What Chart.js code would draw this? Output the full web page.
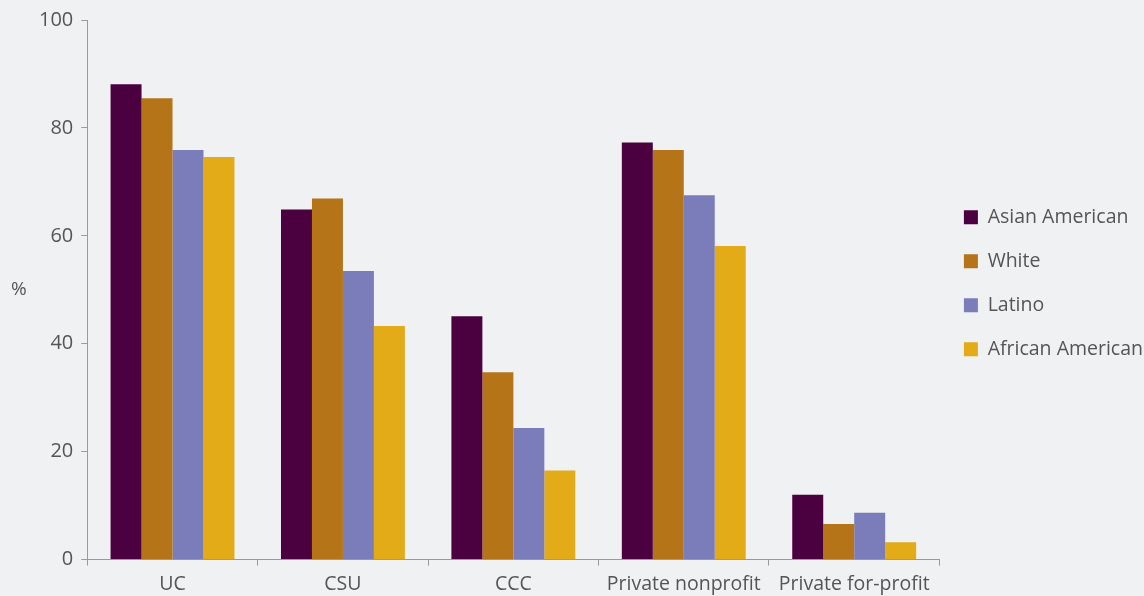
<!DOCTYPE html>
<html>
<head>
<meta charset="utf-8">
<script src="https://cdn.jsdelivr.net/npm/chart.js@4"></script>
<style>
  html, body { margin: 0; padding: 0; background: #eff1f3; }
  #wrap { position: relative; width: 1144px; height: 596px; }
</style>
</head>
<body>
<div id="wrap"><canvas id="barChart"></canvas></div>
<script>
// categories + series (percent)
const sectors = ['UC', 'CSU', 'CCC', 'Private nonprofit', 'Private for-profit'];
const asianAmerican = [88.1, 64.9, 45.1, 77.3, 12.0];
const white = [85.5, 66.9, 34.7, 75.9, 6.6];
const latino = [75.9, 53.5, 24.4, 67.5, 8.7];
const africanAmerican = [74.6, 43.3, 16.5, 58.1, 3.2];
const yTicks = [0, 20, 40, 60, 80, 100];

const textColor = '#555555';
const axisColor = '#9a9a9a';
const fontFamily = '"Open Sans", Lato, sans-serif';

// "%" label, drawn horizontally left of the y axis
const percentLabel = {
  id: 'percentLabel',
  afterDraw(chart) {
    const { ctx, chartArea } = chart;
    ctx.save();
    ctx.fillStyle = textColor;
    ctx.font = '19px ' + fontFamily;
    ctx.textAlign = 'left';
    ctx.textBaseline = 'middle';
    ctx.fillText('%', 11, (chartArea.top + chartArea.bottom) / 2);
    ctx.restore();
  }
};

const ctx = document.getElementById('barChart');
new Chart(ctx, {
  type: 'bar',
  data: {
    labels: sectors,
    datasets: [
      { label: 'Asian American', data: asianAmerican, backgroundColor: '#4b0040' },
      { label: 'White', data: white, backgroundColor: '#b57418' },
      { label: 'Latino', data: latino, backgroundColor: '#7b7dbb' },
      { label: 'African American', data: africanAmerican, backgroundColor: '#e2ab17' }
    ]
  },
  options: {
    responsive: true,
    maintainAspectRatio: false,
    animation: false,
    datasets: { bar: { barPercentage: 1, categoryPercentage: 0.727 } },
    layout: { padding: { top: 8, left: 31, right: -9, bottom: -8 } },
    scales: {
      x: {
        grid: { display: true, drawOnChartArea: false, offset: true, tickLength: 6, color: axisColor },
        border: { color: axisColor },
        ticks: { color: textColor, font: { family: fontFamily, size: 19.5 }, padding: 7.5, maxRotation: 0 }
      },
      y: {
        min: 0, max: 100,
        afterBuildTicks: (axis) => { axis.ticks = yTicks.map(v => ({ value: v })); },
        grid: { display: true, drawOnChartArea: false, tickLength: 6, color: axisColor },
        border: { color: axisColor },
        ticks: { color: textColor, font: { family: fontFamily, size: 20 }, padding: 8 }
      }
    },
    plugins: {
      legend: {
        position: 'right',
        align: 'start',
        title: { display: true, text: ' ', font: { size: 10, lineHeight: 1 }, padding: { top: 0, bottom: 165 } },
        labels: { color: textColor, font: { family: fontFamily, size: 19.5 }, boxWidth: 14, boxHeight: 14, padding: 24.5 }
      },
      tooltip: { enabled: false }
    }
  },
  plugins: [percentLabel]
});
</script>
</body>
</html>
